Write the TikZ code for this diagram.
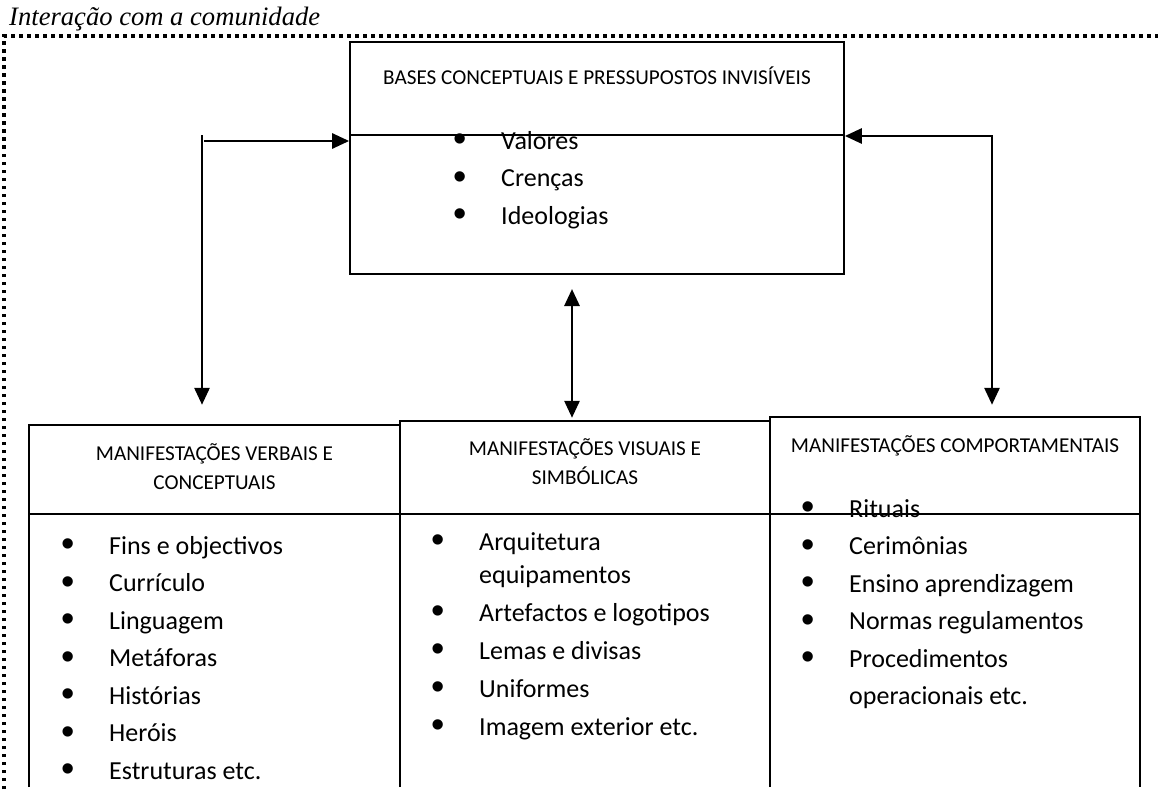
\documentclass[tikz,border=0pt]{standalone}
\usepackage{fontspec}
\setmainfont{Liberation Serif}
\newfontfamily\calibri{Carlito}
\newfontfamily\bulletfont{Liberation Sans}
\usetikzlibrary{arrows.meta}
\tikzset{>={Triangle[length=17pt,width=15pt]}}
\tikzstyle{box}=[rectangle,draw=none,inner sep=0pt]
\tikzstyle{frameline}=[line width=1.7pt]
\tikzstyle{header}=[font=\calibri\fontsize{21.2}{29}\selectfont,inner sep=0pt,anchor=base]
\tikzstyle{itemlist}=[font=\calibri\fontsize{26}{37.5}\selectfont,inner sep=0pt,anchor=base west]
\tikzstyle{link}=[line width=2.8pt]
\tikzstyle{border}=[line width=3.5pt,dash pattern=on 3.5pt off 4.5pt]
\newcommand{\bul}{\makebox[0pt]{\raisebox{-2.8pt}{\bulletfont\fontsize{38}{38}\selectfont\textbullet}}\hspace{41pt}}

\begin{document}
\begin{tikzpicture}[x=1pt,y=-1pt]
	\useasboundingbox (0,0) rectangle (1158,789);
	\def \divy {514}

	% community frame
	\node[inner sep=0pt,anchor=base west,font=\fontsize{26.6}{30}\selectfont\itshape] (community) at (9,26) {Interação com a comunidade};
	\draw[border] (4,789) -- (4,36) -- (1158,36);

	% top box
	\node[box,draw,line width=1.7pt,minimum width=494pt,minimum height=232pt] (bases) at (597,158) {};
	\draw[line width=1.3pt] (bases.west |- 0,135) -- (bases.east |- 0,135);
	\node[header] (baseshead) at (597,85) {BASES CONCEPTUAIS E PRESSUPOSTOS INVISÍVEIS};
	\node[itemlist] (basesitems) at (460,149) {\begin{tabular}[t]{@{}l@{}}
		\bul Valores\\ \bul Crenças\\ \bul Ideologias\end{tabular}};

	% bottom boxes, open at the bottom
	\node[box,minimum width=371pt,minimum height=362pt] (verbal) at (214.5,606) {};
	\node[box,minimum width=370pt,minimum height=366pt] (visual) at (585,604) {};
	\node[box,minimum width=370pt,minimum height=370pt] (comport) at (955,602) {};
	\foreach \b in {verbal,visual,comport} {
		\draw[frameline] (\b.south west) -- (\b.north west) -- (\b.north east) -- (\b.south east);
		\draw[frameline] (\b.west |- 0,\divy) -- (\b.east |- 0,\divy);
	}

	\node[header] (verbalhead) at (214.5,460) {\begin{tabular}[t]{@{}c@{}}MANIFESTAÇÕES VERBAIS E\\CONCEPTUAIS\end{tabular}};
	\node[header] (visualhead) at (585,455) {\begin{tabular}[t]{@{}c@{}}MANIFESTAÇÕES VISUAIS E\\SIMBÓLICAS\end{tabular}};
	\node[header] (comporthead) at (955,452) {MANIFESTAÇÕES COMPORTAMENTAIS};

	\node[itemlist] (verbalitems) at (68,554) {\begin{tabular}[t]{@{}l@{}}
		\bul Fins e objectivos\\ \bul Currículo\\ \bul Linguagem\\ \bul Metáforas\\
		\bul Histórias\\ \bul Heróis\\ \bul Estruturas etc.\end{tabular}};
	\node[itemlist,font=\calibri\fontsize{26}{33}\selectfont] (visualitems) at (438,550) {\begin{tabular}[t]{@{}l@{}}
		\bul Arquitetura\\ \hspace{41pt}equipamentos\\[5pt] \bul Artefactos e logotipos\\[5pt]
		\bul Lemas e divisas\\[5pt] \bul Uniformes\\[5pt] \bul Imagem exterior etc.\end{tabular}};
	\node[itemlist] (comportitems) at (808,517) {\begin{tabular}[t]{@{}l@{}}
		\bul Rituais\\ \bul Cerimônias\\ \bul Ensino aprendizagem\\ \bul Normas regulamentos\\
		\bul Procedimentos\\ \hspace{41pt}operacionais etc.\end{tabular}};

	% connectors
	\coordinate (leftcorner) at (202,135);
	\coordinate (leftstart) at (204,141);
	\coordinate (rightcorner) at (992,136);
	\coordinate (midarrow) at (572,289);

	\draw[link,->,shorten >=20pt] (leftcorner) -- (leftcorner |- verbal.north);
	\draw[link,->] (leftstart) -- (leftstart -| bases.west);
	\draw[link,<->,shorten >=12pt] (rightcorner -| bases.east) -- (rightcorner) -- (rightcorner |- comport.north);
	\draw[link,<->,shorten >=3pt] (midarrow) -- (midarrow |- visual.north);
\end{tikzpicture}
\end{document}
